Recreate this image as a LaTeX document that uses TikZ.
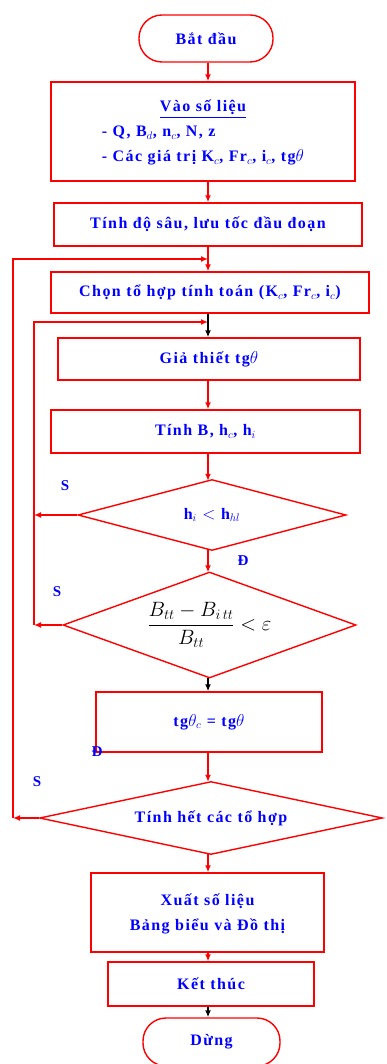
\documentclass[tikz,border=0pt]{standalone}
\usepackage{amsmath}
\usepackage{fontspec}
\setmainfont{Liberation Serif}
\newfontfamily\vnfont[LetterSpace=9]{Liberation Serif}
\usetikzlibrary{arrows.meta,shapes.geometric}
\tikzset{>={Latex[width=6pt,length=7pt]}}
\tikzset{
  box/.style={draw=red, line width=1.4pt, rectangle, inner sep=0pt, text=blue, font=\vnfont\bfseries\fontsize{16}{25}\selectfont},
  term/.style={box, rounded corners=23pt},
  test/.style={draw=red, line width=1.4pt, diamond, inner sep=0pt, text=blue, font=\vnfont\bfseries\fontsize{16}{25}\selectfont},
  flow/.style={->, red, line width=1.4pt},
  flowk/.style={->, black, line width=1.4pt},
  yesno/.style={text=blue, font=\bfseries\fontsize{15}{17}\selectfont}
}
\begin{document}
\begin{tikzpicture}[x=1pt,y=-1pt]
  \useasboundingbox (0,0) rectangle (386,1064);

  % cac khoi chinh
  \node[term, minimum width=134pt, minimum height=47pt] (batdau) at (206,38.5) {Bắt đầu};
  \node[box, minimum width=304pt, minimum height=99pt] (vao) at (203,131.5)
    {\begin{tabular}{@{}l@{}}\multicolumn{1}{@{}c@{}}{\underline{Vào số liệu}}\\[0pt]
     - Q, B$_d$, n$_c$, N, z\\[0pt]
     - Các giá trị K$_c$, Fr$_c$, i$_c$, tg$\theta$\end{tabular}};
  \node[box, minimum width=308pt, minimum height=43pt] (dosau) at (208,224.5) {Tính độ sâu, lưu tốc đầu đoạn};
  \node[box, minimum width=318pt, minimum height=41pt] (tohop) at (210,292.5) {Chọn tổ hợp tính toán (K$_c$, Fr$_c$, i$_c$)};
  \node[box, minimum width=302pt, minimum height=42pt] (giathiet) at (209,359) {Giả thiết tg$\theta$};
  \node[box, minimum width=309pt, minimum height=43pt] (tinhb) at (205.5,431.5) {Tính B, h$_c$, h$_i$};
  \node[test, minimum width=268pt, minimum height=71pt, aspect=3.8] (ktra1) at (212,515) {h$_i$ $<$ h$_{hl}$};
  \node[test, minimum width=293pt, minimum height=106pt, aspect=2.8] (ktra2) at (209.5,625)
    {\color{black}\fontsize{21}{25}\selectfont$\dfrac{B_{tt}-B_{i\,tt}}{B_{tt}}<\varepsilon$};
  \node[box, minimum width=226pt, minimum height=60pt] (gan) at (209,722) {tg$\theta_c$ = tg$\theta$};
  \node[test, minimum width=343pt, minimum height=73pt, aspect=4.7] (het) at (211,818) {Tính hết các tổ hợp};
  \node[box, minimum width=233pt, minimum height=79pt] (xuat) at (207.5,912.5)
    {\begin{tabular}{@{}c@{}}Xuất số liệu\\ Bảng biểu và Đồ thị\end{tabular}};
  \node[box, minimum width=206pt, minimum height=44pt] (ketthuc) at (211,984) {Kết thúc};
  \node[term, minimum width=137pt, minimum height=48pt] (dung) at (211.5,1042) {Dừng};

  % truc doc va diem re nhanh
  \coordinate (truc) at (208,0);
  \coordinate (ngoai) at (13,818);
  \coordinate (trong) at (34,625);
  \coordinate (ngoaiv) at (208,259);
  \coordinate (trongv) at (208,322);

  % mui ten doc
  \draw[flow] (batdau.south -| truc) -- (vao.north -| truc);
  \draw[flow] (vao.south -| truc) -- (dosau.north -| truc);
  \draw[flow] (dosau.south -| truc) -- (tohop.north -| truc);
  \draw[flowk] (tohop.south -| truc) -- (giathiet.north -| truc);
  \draw[flow] (giathiet.south -| truc) -- (tinhb.north -| truc);
  \draw[flow] (tinhb.south -| truc) -- ([yshift=-2pt]ktra1.north -| truc);
  \draw[flow] ([yshift=2pt]ktra1.south -| truc) -- ([yshift=-1pt]ktra2.north -| truc);
  \draw[flowk] ([yshift=1pt]ktra2.south -| truc) -- (gan.north -| truc);
  \draw[flow] (gan.south -| truc) -- ([yshift=-1pt]het.north -| truc);
  \draw[flow] ([yshift=1pt]het.south -| truc) -- (xuat.north -| truc);
  \draw[flow] (xuat.south -| truc) -- (ketthuc.north -| truc);
  \draw[flowk] (ketthuc.south -| truc) -- (dung.north -| truc);

  % vong lap
  \draw[flow] (ktra1.west) -- (trong |- ktra1.west);
  \draw[flow] (ktra2.west) -- (trong);
  \draw[red, line width=1.4pt, ->] (trong) |- (trongv);
  \draw[flow] (het.west) -- (ngoai);
  \draw[flow] (ngoai) |- (ngoaiv);

  % nhan S / D
  \node[yesno] (s1) at (65,486) {S};
  \node[yesno] (d1) at (243,561) {Đ};
  \node[yesno] (s2) at (57,592) {S};
  \node[yesno] (d2) at (97,752) {Đ};
  \node[yesno] (s3) at (37,782) {S};
\end{tikzpicture}
\end{document}
